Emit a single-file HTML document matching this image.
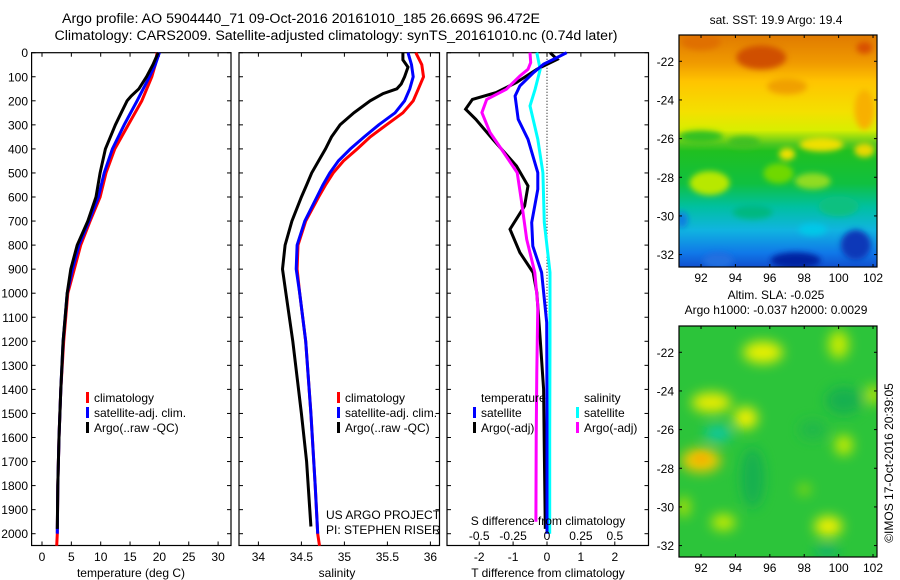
<!DOCTYPE html>
<html><head><meta charset="utf-8"><style>
body{margin:0;background:#fff;}
svg{display:block;font-family:"Liberation Sans",sans-serif;}
</style></head><body>
<svg id="fig" width="900" height="580" viewBox="0 0 900 580" xmlns="http://www.w3.org/2000/svg">
<defs>
<linearGradient id="sstGrad" x1="0" y1="0" x2="0" y2="1">
<stop offset="0" stop-color="#e07a00"/><stop offset="0.12" stop-color="#f09a00"/>
<stop offset="0.2" stop-color="#ffc400"/><stop offset="0.33" stop-color="#f4e000"/>
<stop offset="0.41" stop-color="#d8ee00"/><stop offset="0.47" stop-color="#50c820"/><stop offset="0.5" stop-color="#20c020"/>
<stop offset="0.64" stop-color="#10c040"/><stop offset="0.74" stop-color="#00c0a0"/>
<stop offset="0.84" stop-color="#10b4e0"/><stop offset="0.94" stop-color="#1078e8"/>
<stop offset="1" stop-color="#1050d0"/></linearGradient>
<filter id="blur6" x="-50%" y="-50%" width="200%" height="200%"><feGaussianBlur stdDeviation="6"/></filter>
<filter id="blur3" x="-50%" y="-50%" width="200%" height="200%"><feGaussianBlur stdDeviation="3"/></filter>
<filter id="blur4" x="-50%" y="-50%" width="200%" height="200%"><feGaussianBlur stdDeviation="4"/></filter>
<clipPath id="clipSST"><rect x="679" y="35" width="198" height="232"/></clipPath>
<clipPath id="clipSLA"><rect x="679" y="326" width="198" height="231"/></clipPath>
</defs>
<g id="layer"></g>
</svg>
<script>
// ---------- data ----------
const depthTicks=[0,100,200,300,400,500,600,700,800,900,1000,1100,1200,1300,1400,1500,1600,1700,1800,1900,2000];
const tTicks=[0,5,10,15,20,25,30];
const sTicks=[34,34.5,35,35.5,36];
const sTickLabels=["34","34.5","35","35.5","36"];
const dTTicks=[-2,-1,0,1,2];
const dSTicks=[-0.5,-0.25,0,0.25,0.5];
const dSTickLabels=["-0.5","-0.25","0","0.25","0.5"];

const tClimDepth=[0,50,100,200,300,400,500,600,700,800,900,1000,1200,1400,1600,1800,2000,2050];
const tClim=[19.6,19.3,18.7,17.0,14.7,12.4,10.9,9.9,8.2,6.6,5.5,4.4,3.7,3.2,2.9,2.7,2.6,2.5];
const tSatDepth=[0,50,100,200,300,400,500,600,700,800,900,1000,1200,1400,1600,1800,2000];
const tSat=[20.0,19.3,18.3,16.2,14.0,12.0,10.6,9.6,8.0,6.3,5.2,4.3,3.6,3.2,2.9,2.7,2.6];
const tArgoDepth=[0,50,100,150,180,200,250,300,400,500,600,700,800,900,1000,1200,1400,1600,1800,1980];
const tArgo=[19.8,18.9,17.8,16.5,15.2,14.5,13.5,12.5,10.8,9.9,9.2,7.8,6.0,4.9,4.3,3.6,3.2,2.9,2.7,2.6];

const sClimDepth=[0,50,100,150,200,250,300,350,400,450,500,550,600,700,800,900,1000,1200,1500,1800,2000,2050];
const sClim=[35.83,35.90,35.92,35.86,35.80,35.68,35.49,35.30,35.15,34.99,34.87,34.78,34.70,34.55,34.46,34.45,34.48,34.55,34.61,34.66,34.69,34.71];
const sSatDepth=[0,50,100,150,200,250,300,350,400,450,500,550,600,700,800,900,1000,1200,1500,1800,2000];
const sSat=[35.74,35.78,35.80,35.76,35.70,35.59,35.40,35.23,35.07,34.93,34.83,34.75,34.68,34.54,34.45,34.44,34.48,34.55,34.61,34.66,34.69];
const sArgoDepth=[0,30,60,100,130,150,170,200,250,300,350,400,450,500,550,600,700,800,900,1000,1200,1500,1700,1970];
const sArgo=[35.68,35.68,35.74,35.70,35.66,35.61,35.45,35.30,35.11,34.95,34.85,34.78,34.70,34.62,34.56,34.50,34.39,34.31,34.28,34.32,34.40,34.50,34.56,34.61];

const dTSatDepth=[0,28,48,83,138,180,277,360,499,568,706,804,914,1122,1500,2000];
const dTSat=[0.58,0.19,-0.1,-0.4,-0.8,-0.94,-0.85,-0.56,-0.27,-0.27,-0.45,-0.42,-0.16,-0.01,0.0,0.0];
const dTArgoDepth=[0,28,69,124,166,194,235,277,360,471,554,637,734,831,914,997,1191,1399,1650,1980];
const dTArgo=[0.09,0.3,-0.3,-0.9,-1.5,-2.2,-2.4,-2.1,-1.6,-0.9,-0.56,-0.66,-1.09,-0.8,-0.41,-0.3,-0.2,-0.1,-0.08,-0.05];
const dSSatDepth=[0,69,152,221,360,499,706,914,1200,1600,2000];
const dSSat=[-0.075,-0.05,-0.088,-0.125,-0.068,-0.03,-0.02,0.022,0.022,0.02,0.02];
const dSArgoDepth=[0,41,69,97,152,194,249,332,402,499,610,776,914,1053,1330,1600,1950];
const dSArgo=[-0.125,-0.12,-0.14,-0.2,-0.3,-0.445,-0.48,-0.42,-0.335,-0.22,-0.19,-0.15,-0.09,-0.068,-0.075,-0.08,-0.082];

const lonTicks=[92,94,96,98,100,102];
const latTicks=[-22,-24,-26,-28,-30,-32];

// ---------- axes ----------
const P1={l:31.6,r:231}, P2={l:239,r:439.5}, P3={l:447,r:648.5};
const TOP=52.7, BOT=545.5;
function yD(d){return TOP+d*0.2405;}
function xT(t){return 42+t*5.87;}
function xS(s){return 258.4+(s-34)*86;}
function xDT(t){return 547+t*33.9;}
function xDS(s){return 547+s*4*33.9;}
function lonX(lon){return 679+(lon-90.72)*17.2;}
function latY(lat,top){return top+(-20.64-lat)*19.33;}

const NS='http://www.w3.org/2000/svg';
const root=document.getElementById('layer');
function mk(tag,attrs,parent){const e=document.createElementNS(NS,tag);for(const k in attrs)e.setAttribute(k,attrs[k]);(parent||root).appendChild(e);return e;}
function txt(x,y,s,size,anchor,parent){const e=mk('text',{x:x,y:y,'font-size':size,'text-anchor':anchor||'middle',fill:'#000'},parent);e.textContent=s;return e;}

function panelBox(P,name){
  const r=mk('rect',{x:P.l,y:TOP,width:P.r-P.l,height:BOT-TOP,fill:'none',stroke:'#000','stroke-width':1.2});
  
  
  depthTicks.forEach(d=>{
    mk('line',{x1:P.l,x2:P.l+4,y1:yD(d),y2:yD(d),stroke:'#000'});
    mk('line',{x1:P.r-4,x2:P.r,y1:yD(d),y2:yD(d),stroke:'#000'});
  });
}
function xTicks(vals,fx,labels,name){
  const g=mk('g',{});
  
  
  vals.forEach((v,i)=>{const x=fx(v);
    mk('line',{x1:x,x2:x,y1:BOT,y2:BOT-4,stroke:'#000'},g);
    mk('line',{x1:x,x2:x,y1:TOP,y2:TOP+4,stroke:'#000'},g);
    if(labels) txt(x,561,labels[i],12,'middle',g);
  });
  return g;
}
function line(depths,vals,fx,color,name,w){
  const pts=depths.map((d,i)=>fx(vals[i]).toFixed(1)+','+yD(d).toFixed(1)).join(' ');
  const p=mk('polyline',{points:pts,fill:'none',stroke:color,'stroke-width':w||3,'stroke-linejoin':'miter'});
  
  
  return p;
}

// depth tick labels
const yl=mk('g',{});


depthTicks.forEach(d=>txt(28,yD(d)+4.5,String(d),12,'end',yl));

// panel 1
panelBox(P1,'temperature-panel');
xTicks(tTicks,xT,tTicks.map(String),'temperature-x-axis');
line(tClimDepth,tClim,xT,'#ff0000','temperature-climatology-line');
line(tSatDepth,tSat,xT,'#0000ff','temperature-satellite-line');
line(tArgoDepth,tArgo,xT,'#000000','temperature-argo-line');
let t=txt(131,577,'temperature (deg C)',12);



// panel 2
panelBox(P2,'salinity-panel');
xTicks(sTicks,xS,sTickLabels,'salinity-x-axis');
line(sClimDepth,sClim,xS,'#ff0000','salinity-climatology-line');
line(sSatDepth,sSat,xS,'#0000ff','salinity-satellite-line');
line(sArgoDepth,sArgo,xS,'#000000','salinity-argo-line');
t=txt(337,577,'salinity',12);



// panel 3
panelBox(P3,'difference-panel');
const zl=mk('line',{x1:xDT(0),x2:xDT(0),y1:TOP,y2:yD(1320),stroke:'#000','stroke-dasharray':'1,2','stroke-width':1});


xTicks(dTTicks,xDT,dTTicks.map(String),'t-difference-x-axis');
line(dTArgoDepth,dTArgo,xDT,'#000000','t-diff-argo-line');
line(dSSatDepth,dSSat,xDS,'#00ffff','s-diff-satellite-line');
line(dTSatDepth,dTSat,xDT,'#0000ff','t-diff-satellite-line');
line(dSArgoDepth,dSArgo,xDS,'#ff00ff','s-diff-argo-line');
const sax=mk('g',{});


dSTicks.forEach((v,i)=>txt(xDS(v),540,dSTickLabels[i],12,'middle',sax));
t=txt(548,525,'S difference from climatology',12);


t=txt(548,577,'T difference from climatology',12);



// legends
function legend(x,y,entries,name){
  const g=mk('g',{});
  
  
  entries.forEach((e,i)=>{
    const yy=y+i*15;
    if(e[1]) mk('rect',{x:x,y:yy-10,width:3,height:11,fill:e[1]},g);
    txt(x+8,yy,e[0],12,'start',g);
  });
}
legend(86,402,[['climatology','#ff0000'],['satellite-adj. clim.','#0000ff'],['Argo(..raw -QC)','#000000']],'temperature-legend');
legend(337,402,[['climatology','#ff0000'],['satellite-adj. clim.','#0000ff'],['Argo(..raw -QC)','#000000']],'salinity-legend');
legend(473,402,[['temperature',null],['satellite','#0000ff'],['Argo(-adj)','#000000']],'temperature-diff-legend');
legend(576,402,[['salinity',null],['satellite','#00ffff'],['Argo(-adj)','#ff00ff']],'salinity-diff-legend');
txt(326,519,'US ARGO PROJECT',12,'start');
txt(326,534,'PI: STEPHEN RISER',12,'start');

// titles
t=txt(301,23,'Argo profile: AO 5904440_71 09-Oct-2016 20161010_185 26.669S 96.472E',14.2);


t=txt(336,40,'Climatology: CARS2009. Satellite-adjusted climatology: synTS_20161010.nc (0.74d later)',14.2);



// ---------- maps ----------
function mapAxes(top,bottom,name){
  const g=mk('g',{});
  
  
  mk('rect',{x:679,y:top,width:198,height:bottom-top,fill:'none',stroke:'#000','stroke-width':1.2},g);
  lonTicks.forEach(l=>{const x=lonX(l);
    mk('line',{x1:x,x2:x,y1:bottom,y2:bottom-3,stroke:'#000'},g);
    mk('line',{x1:x,x2:x,y1:top,y2:top+3,stroke:'#000'},g);
    txt(x,bottom+15,String(l),12,'middle',g);});
  latTicks.forEach(l=>{const y=latY(l,top);
    mk('line',{x1:679,x2:682,y1:y,y2:y,stroke:'#000'},g);
    mk('line',{x1:874,x2:877,y1:y,y2:y,stroke:'#000'},g);
    txt(674,y+4.5,String(l),12,'end',g);});
}
// SST map
const sst=mk('g',{'clip-path':'url(#clipSST)'});


mk('rect',{x:679,y:35,width:198,height:232,fill:'url(#sstGrad)'},sst);
const sstBlobs=mk('g',{filter:'url(#blur3)'},sst);
[[95.5,-21.8,25,12,'#d05000'],[92,-21,20,8,'#e07000'],[101.5,-21.3,8,6,'#d85000'],[97,-23.3,20,8,'#f0a000'],[101.5,-24.5,10,20,'#f8b000'],
 [92,-25.9,22,6,'#30c020'],[94.5,-26.2,16,6,'#40c020'],[99,-26.3,22,7,'#f0e000'],[101.5,-26.6,10,7,'#e8d800'],[97,-26.8,8,6,'#f0e000'],
 [92.5,-28.3,20,12,'#b8e800'],[96.5,-27.8,15,10,'#70d800'],[98.5,-28.2,18,8,'#90dc20'],[100,-29.5,20,10,'#10c080'],[95,-29.8,20,7,'#00b880'],
 [97.5,-32.3,25,8,'#0020a0'],[101,-31.5,15,15,'#0838b8'],[93,-32.3,15,8,'#2070e0'],[90.9,-30.2,6,8,'#1080e0'],[98.5,-30.7,14,6,'#00c8e8']]
 .forEach(b=>mk('ellipse',{cx:lonX(b[0]),cy:latY(b[1],35),rx:b[2],ry:b[3],fill:b[4]},sstBlobs));
mapAxes(35,267,'sst-map-axes');
t=txt(776,24,'sat. SST: 19.9 Argo: 19.4',12);



// SLA map
const sla=mk('g',{'clip-path':'url(#clipSLA)'});


mk('rect',{x:679,y:326,width:198,height:231,fill:'#2cc43a'},sla);
const slaBlobs=mk('g',{filter:'url(#blur6)'},sla);
[[95,-28.5,12,30,'#18b050'],[100.3,-24.5,18,14,'#18b050'],[98.5,-26,14,10,'#20b84a'],[93,-26.2,14,8,'#10c8a0'],[99.3,-32.3,12,6,'#10b070'],
 [95.6,-22,20,11,'#e8f000'],[92.6,-24.6,20,10,'#e8ec00'],[94.6,-25.4,12,11,'#f0f000'],[100,-21.6,10,14,'#c8ec00'],[102,-24.2,6,10,'#d0e800'],
 [92,-27.6,20,12,'#f0c800'],[99.4,-31,14,10,'#f0f000'],[93.3,-30.8,12,8,'#c8ec00'],[100.3,-26.8,9,10,'#c8ec00'],[91,-30,6,10,'#b8e400'],[98,-29.1,6,5,'#a0e010']]
 .forEach(b=>mk('ellipse',{cx:lonX(b[0]),cy:latY(b[1],326),rx:b[2],ry:b[3],fill:b[4]},slaBlobs));
mk('ellipse',{cx:lonX(92),cy:latY(-27.5,326),rx:8,ry:5,fill:'#f4b000',filter:'url(#blur4)'},sla);
mapAxes(326,557,'sla-map-axes');
t=txt(776,299,'Altim. SLA: -0.025',12);


t=txt(776,314,'Argo h1000: -0.037 h2000: 0.0029',12);


t=mk('text',{x:0,y:0,'font-size':12,'text-anchor':'middle',transform:'translate(893,463) rotate(-90)'});
t.textContent='©IMOS 17-Oct-2016 20:39:05';


</script>
</body></html>
